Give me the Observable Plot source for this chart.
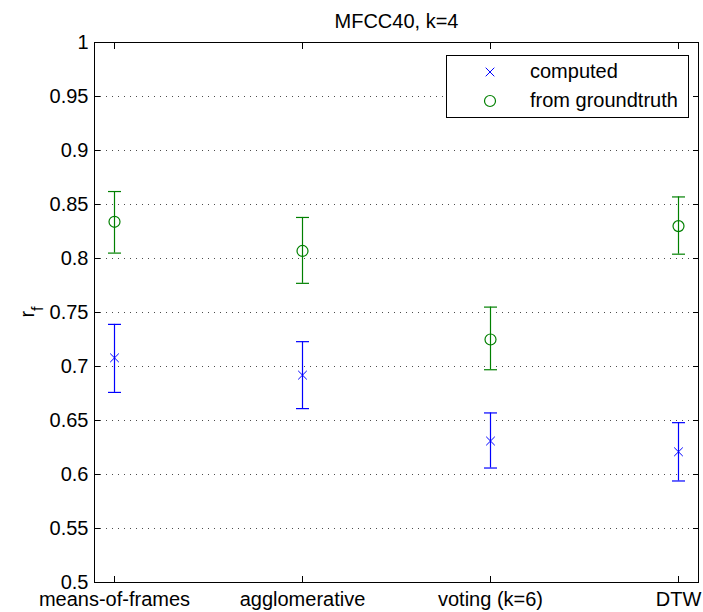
<!DOCTYPE html>
<html><head><meta charset="utf-8">
<script src="https://cdn.jsdelivr.net/npm/d3@7"></script>
<script src="https://cdn.jsdelivr.net/npm/@observablehq/plot@0.6"></script>
<style>
body{margin:0;background:#fff;}
#chart{font-family:"Liberation Sans",Arial,Helvetica,sans-serif;}
</style>
</head><body><div id="chart"></div>
<script>
const title = "MFCC40, k=4";
const yLabel = "r";
const yLabelSub = "f";
const categories = ["means-of-frames", "agglomerative", "voting (k=6)", "DTW"];
const seriesNames = ["computed", "from groundtruth"];
const seriesColors = ["#0000ff", "#008000"];
const computedMean = [0.708, 0.692, 0.631, 0.621];
const computedLow  = [0.676, 0.661, 0.606, 0.594];
const computedHigh = [0.739, 0.723, 0.657, 0.648];
const groundMean = [0.834, 0.807, 0.725, 0.830];
const groundLow  = [0.805, 0.777, 0.697, 0.804];
const groundHigh = [0.862, 0.838, 0.755, 0.857];
const yTicks = [0.5, 0.55, 0.6, 0.65, 0.7, 0.75, 0.8, 0.85, 0.9, 0.95, 1];
const yTickLabels = ["0.5", "0.55", "0.6", "0.65", "0.7", "0.75", "0.8", "0.85", "0.9", "0.95", "1"];

const rows = [];
categories.forEach((c, i) => {
  rows.push({cat: c, series: seriesNames[0], mean: computedMean[i], low: computedLow[i], high: computedHigh[i]});
  rows.push({cat: c, series: seriesNames[1], mean: groundMean[i], low: groundLow[i], high: groundHigh[i]});
});
const computedRows = rows.filter(d => d.series === seriesNames[0]);
const groundRows = rows.filter(d => d.series === seriesNames[1]);

const capSymbol = {
  draw(ctx, size) {
    const r = Math.sqrt(size / Math.PI);
    ctx.moveTo(-r, 0);
    ctx.lineTo(r, 0);
  }
};

const FS = 20;
const chart = Plot.plot({
  width: 703,
  height: 612,
  marginLeft: 94,
  marginRight: 5,
  marginTop: 42,
  marginBottom: 30,
  style: {fontFamily: '"Liberation Sans", Arial, Helvetica, sans-serif', fontSize: FS + "px", background: "#fff", color: "#000"},
  x: {type: "point", domain: categories, padding: 0.1},
  y: {domain: [0.5, 1]},
  color: {domain: seriesNames, range: seriesColors},
  marks: [
    Plot.gridY({ticks: yTicks.slice(1, -1), stroke: "#000", strokeOpacity: 0.7, strokeDasharray: "1,5"}),
    Plot.ruleX(rows, {x: "cat", y1: "low", y2: "high", stroke: "series", strokeWidth: 1.2}),
    Plot.dot(rows, {x: "cat", y: "low", symbol: capSymbol, r: 6.5, stroke: "series", strokeWidth: 1.2, fill: "none"}),
    Plot.dot(rows, {x: "cat", y: "high", symbol: capSymbol, r: 6.5, stroke: "series", strokeWidth: 1.2, fill: "none"}),
    Plot.dot(computedRows, {x: "cat", y: "mean", symbol: "times", r: 4, stroke: "series", strokeWidth: 1}),
    Plot.dot(groundRows, {x: "cat", y: "mean", symbol: "circle", r: 5.5, stroke: "series", strokeWidth: 1.2, fill: "none"}),
    Plot.frame({stroke: "#000", strokeWidth: 1}),
    Plot.axisY({ticks: yTicks, tickFormat: (d) => yTickLabels[yTicks.indexOf(d)], tickSize: -6, tickPadding: 12, fontSize: FS, label: null}),
    Plot.axisY({anchor: "right", ticks: yTicks, tickFormat: () => "", tickSize: -6, label: null}),
    Plot.axisX({tickSize: -6, tickPadding: 15, fontSize: FS, label: null}),
    Plot.axisX({anchor: "top", tickSize: -6, tickFormat: () => "", label: null}),
    Plot.text([title], {frameAnchor: "top", lineAnchor: "middle", dy: -21, fontSize: FS, fill: "#000"})
  ]
});
document.getElementById("chart").appendChild(chart);

// y label with subscript
const svg = d3.select(chart);
const yl = svg.append("text")
  .attr("transform", "translate(34,312) rotate(-90)")
  .attr("text-anchor", "middle")
  .attr("font-size", FS)
  .attr("fill", "#000");
yl.append("tspan").text(yLabel);
yl.append("tspan").attr("baseline-shift", "sub").attr("font-size", FS * 0.8).text(yLabelSub);

// legend
const lg = svg.append("g").attr("text-anchor", "start");
lg.append("rect").attr("x", 446.5).attr("y", 55.5).attr("width", 242).attr("height", 62)
  .attr("fill", "#fff").attr("stroke", "#000").attr("stroke-width", 1);
const rowsY = [72, 101];
seriesNames.forEach((name, i) => {
  const sym = i === 0 ? d3.symbolTimes : d3.symbolCircle;
  const r = i === 0 ? 4 : 5.5;
  lg.append("path")
    .attr("d", d3.symbol(sym, r * r * Math.PI)())
    .attr("transform", `translate(490,${rowsY[i]})`)
    .attr("fill", "none").attr("stroke", seriesColors[i]).attr("stroke-width", i === 0 ? 1 : 1.2);
  lg.append("text").attr("x", 530).attr("y", rowsY[i]).attr("dy", "0.32em")
    .attr("text-anchor", "start")
    .attr("font-size", FS).attr("fill", "#000").text(name);
});
</script>
</body></html>
